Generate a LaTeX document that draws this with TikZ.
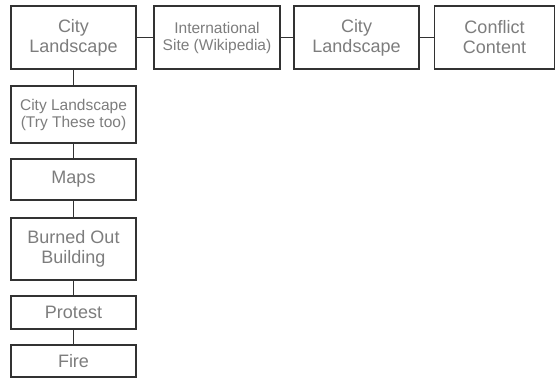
\documentclass[tikz,border=0pt]{standalone}
\usepackage{fontspec}
\setmainfont{Liberation Sans}
\usepackage{xcolor}
\usepackage{tikz}
\usetikzlibrary{positioning}
\definecolor{boxline}{RGB}{50, 50, 50}
\definecolor{labelgray}{RGB}{125, 125, 125}

\begin{document}
\begin{tikzpicture}[
    x=1pt, y=-1pt,
    page/.style={draw=boxline, line width=1.4pt, fill=white, align=center, text=labelgray, inner sep=1pt, font=\fontsize{18}{20}\selectfont},
    smallpage/.style={page, font=\fontsize{15.5}{17}\selectfont},
    link/.style={draw=boxline, line width=1.4pt},
]
    \useasboundingbox (0,0) rectangle (556,378);

    % Top row
    \node[page, minimum width=125pt, minimum height=63pt] (city) at (73.5, 37.5) {City\\Landscape};
    \node[smallpage, minimum width=126pt, minimum height=63pt] (intl) at (217, 37.5) {International\\Site (Wikipedia)};
    \node[page, minimum width=125pt, minimum height=63pt] (cityb) at (356.5, 37.5) {City\\Landscape};
    \node[page, minimum width=120pt, minimum height=63pt] (conflict) at (494.5, 37.5) {Conflict\\Content};

    % Left column
    \node[smallpage, minimum width=125pt, minimum height=57pt] (trythese) at (73.5, 114.5) {City Landscape\\(Try These too)};
    \node[page, minimum width=125pt, minimum height=41pt] (maps) at (73.5, 179.5) {Maps};
    \node[page, minimum width=125pt, minimum height=62pt] (burned) at (73.5, 249) {Burned Out\\Building};
    \node[page, minimum width=125pt, minimum height=33pt] (protest) at (73.5, 312.5) {Protest};
    \node[page, minimum width=125pt, minimum height=32pt] (fire) at (73.5, 361) {Fire};

    % Connectors
    \draw[link] (city) -- (intl);
    \draw[link] (intl) -- (cityb);
    \draw[link] (cityb) -- (conflict);
    \draw[link] (city) -- (trythese);
    \draw[link] (trythese) -- (maps);
    \draw[link] (maps) -- (burned);
    \draw[link] (burned) -- (protest);
    \draw[link] (protest) -- (fire);

\end{tikzpicture}
\end{document}
